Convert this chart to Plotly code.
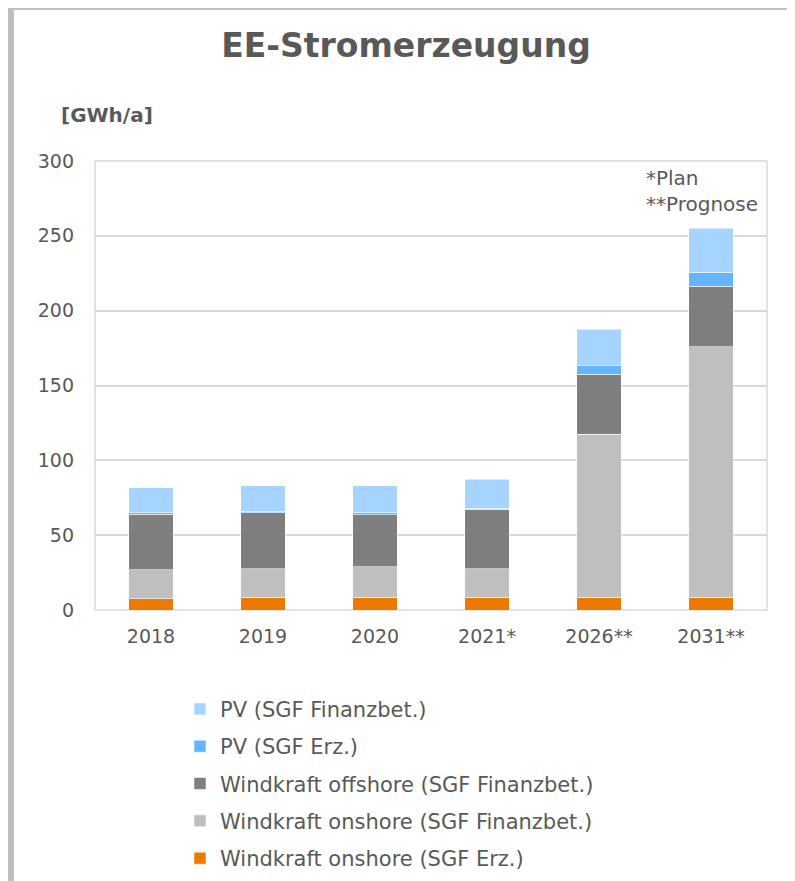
import plotly.graph_objects as go

categories = ["2018", "2019", "2020", "2021*", "2026**", "2031**"]

wind_on_erz = [7.5, 8.5, 8.5, 8.5, 8.5, 8.5]
wind_on_fin = [19.3, 19.2, 20.3, 19.2, 108.8, 167.4]
wind_off_fin = [37.3, 37.4, 35.0, 39.5, 40.1, 40.3]
pv_erz = [1.0, 0.9, 1.1, 0.8, 5.8, 9.4]
pv_fin = [16.7, 16.9, 18.0, 19.4, 24.3, 29.4]

series = [
    ("Windkraft onshore (SGF Erz.)", wind_on_erz, "#EC7A00"),
    ("Windkraft onshore (SGF Finanzbet.)", wind_on_fin, "#BFBFBF"),
    ("Windkraft offshore (SGF Finanzbet.)", wind_off_fin, "#7F7F7F"),
    ("PV (SGF Erz.)", pv_erz, "#63B6FC"),
    ("PV (SGF Finanzbet.)", pv_fin, "#A4D4FF"),
]

FONT = "DejaVu Sans"
TXT = "#595959"

W, H = 787, 873
L, T, PW, PH = 87, 153, 672, 449


def px(x):
    return (x - L) / PW


def py(y):
    return (T + PH - y) / PH


fig = go.Figure()
n = len(series)
for i, (name, vals, col) in enumerate(series):
    fig.add_trace(go.Bar(
        x=categories, y=vals, name=name, legendgroup=f"g{i}", legendrank=n - i,
        marker=dict(color=col, line=dict(color="rgba(255,255,255,0.55)", width=1)),
    ))

fig.update_layout(
    width=W, height=H,
    barmode="stack", bargap=0.6,
    paper_bgcolor="white", plot_bgcolor="white",
    margin=dict(l=L, r=W - L - PW, t=T, b=H - T - PH, autoexpand=False),
    font=dict(family=FONT, color=TXT, size=18),
    title=dict(text="<b>EE-Stromerzeugung</b>", x=398 / W, xanchor="center",
               y=1 - 37 / H, yanchor="middle",
               font=dict(family=FONT, size=33, color=TXT)),
    xaxis=dict(showgrid=False, showline=False, ticks="", tickfont=dict(size=19, color=TXT),
               ticklabelstandoff=13, fixedrange=True),
    yaxis=dict(range=[0, 300], dtick=50, showgrid=True, gridcolor="#D9D9D9", gridwidth=1.5,
               zeroline=False, showline=False, ticks="", tickfont=dict(size=19, color=TXT),
               ticklabelstandoff=20),
    legend=dict(x=px(172), y=-0.1755, xanchor="left", yanchor="top",
                traceorder="grouped", tracegroupgap=7,
                font=dict(size=21, color=TXT), bgcolor="rgba(0,0,0,0)"),
    showlegend=True,
)

# plot area border
fig.add_shape(type="rect", xref="paper", yref="paper", x0=0, y0=0, x1=1, y1=1,
              line=dict(color="#D9D9D9", width=1.5), fillcolor="rgba(0,0,0,0)", layer="below")

# outer frame (left and top gray edges)
fig.add_shape(type="line", xref="paper", yref="paper",
              x0=px(3), x1=px(3), y0=py(-2), y1=py(H + 10),
              line=dict(color="#BFBFBF", width=6))
fig.add_shape(type="line", xref="paper", yref="paper",
              x0=px(-2), x1=px(W + 10), y0=py(0), y1=py(0),
              line=dict(color="#BFBFBF", width=4))

fig.add_annotation(text="<b>[GWh/a]</b>", xref="paper", yref="paper",
                   x=px(51), y=py(107), xanchor="left", yanchor="middle",
                   showarrow=False, font=dict(size=20, color=TXT, family=FONT))
fig.add_annotation(text="*Plan<br>**Prognose", xref="paper", yref="paper",
                   x=px(636), y=py(156), xanchor="left", yanchor="top",
                   align="left", showarrow=False, font=dict(size=20, color=TXT, family=FONT))

fig.write_html("out.html")
